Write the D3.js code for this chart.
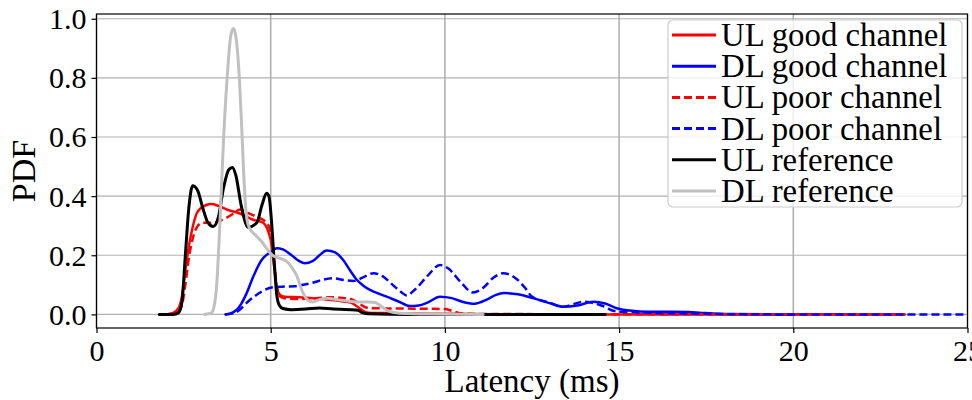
<!DOCTYPE html>
<html>
<head>
<meta charset="utf-8">
<script src="https://cdn.jsdelivr.net/npm/d3@7"></script>
<style>
  html, body { margin: 0; padding: 0; background: #fff; }
  svg { display: block; }
  svg text { font-family: "Liberation Serif", "Times New Roman", Times, "Tinos", "DejaVu Serif", serif !important; fill: #000; }
</style>
</head>
<body>
<svg id="chart" width="972" height="400"></svg>
<script>
// ---- Data (latency in ms, PDF values) ----
const seriesNames = ["UL good channel", "DL good channel", "UL poor channel", "DL poor channel", "UL reference", "DL reference"];

const ulGoodX = [2.0, 2.2, 2.35, 2.45, 2.55, 2.65, 2.75, 2.87, 3.0, 3.15, 3.3, 3.5, 3.75, 4.1, 4.5, 4.78, 4.93, 5.02, 5.1, 5.18, 5.27, 5.4, 5.8, 6.2, 6.6, 7.0, 7.3, 7.5, 7.65, 7.8, 8.5, 10, 12, 23.2];
const ulGoodY = [0, 0.005, 0.02, 0.06, 0.15, 0.23, 0.29, 0.34, 0.36, 0.37, 0.373, 0.367, 0.354, 0.342, 0.32, 0.31, 0.28, 0.24, 0.16, 0.09, 0.066, 0.06, 0.058, 0.055, 0.05, 0.045, 0.04, 0.025, 0.012, 0.006, 0.004, 0.002, 0, 0];

const dlGoodX = [3.7, 3.85, 4.02, 4.15, 4.31, 4.5, 4.74, 4.9, 5.03, 5.17, 5.35, 5.6, 5.8, 5.98, 6.2, 6.4, 6.6, 6.85, 7.08, 7.3, 7.47, 7.65, 7.85, 8.1, 8.33, 8.7, 9.0, 9.25, 9.5, 9.86, 10.2, 10.5, 10.85, 11.2, 11.45, 11.7, 12.1, 12.53, 13.0, 13.39, 13.8, 14.26, 14.6, 14.93, 15.3, 15.6, 16.0, 16.5, 17.0, 17.3, 17.7, 18.2, 20];
const dlGoodY = [0, 0.003, 0.015, 0.035, 0.072, 0.128, 0.184, 0.203, 0.213, 0.224, 0.22, 0.2, 0.182, 0.173, 0.18, 0.2, 0.216, 0.21, 0.184, 0.145, 0.117, 0.098, 0.083, 0.07, 0.06, 0.042, 0.028, 0.03, 0.04, 0.06, 0.055, 0.043, 0.036, 0.05, 0.065, 0.072, 0.068, 0.055, 0.038, 0.026, 0.03, 0.043, 0.037, 0.021, 0.013, 0.01, 0.009, 0.009, 0.008, 0.006, 0.003, 0.001, 0];

const ulPoorX = [2.0, 2.3, 2.45, 2.55, 2.65, 2.77, 2.91, 3.05, 3.25, 3.45, 3.7, 3.92, 4.12, 4.3, 4.6, 4.88, 4.97, 5.05, 5.12, 5.2, 5.28, 5.4, 5.8, 6.3, 6.7, 7.0, 7.3, 7.5, 7.7, 7.85, 8.5, 9.5, 10.0, 10.2, 10.4, 10.7, 12, 23.2];
const ulPoorY = [0, 0.005, 0.03, 0.1, 0.19, 0.26, 0.30, 0.31, 0.31, 0.313, 0.325, 0.34, 0.355, 0.345, 0.33, 0.31, 0.29, 0.23, 0.15, 0.08, 0.06, 0.055, 0.052, 0.055, 0.058, 0.056, 0.052, 0.04, 0.025, 0.021, 0.02, 0.019, 0.018, 0.012, 0.005, 0.002, 0.001, 0];

const dlPoorX = [3.7, 3.97, 4.15, 4.31, 4.5, 4.74, 5.07, 5.4, 5.7, 5.93, 6.2, 6.5, 6.8, 7.1, 7.37, 7.65, 7.95, 8.2, 8.5, 8.75, 8.9, 9.15, 9.5, 9.86, 10.1, 10.45, 10.8, 11.1, 11.4, 11.67, 12.0, 12.3, 12.5, 13.0, 13.4, 13.7, 13.97, 14.2, 14.45, 14.93, 15.5, 16.0, 17.0, 18, 20, 25];
const dlPoorY = [0, 0.005, 0.02, 0.039, 0.058, 0.077, 0.092, 0.094, 0.095, 0.1, 0.107, 0.117, 0.122, 0.116, 0.113, 0.125, 0.139, 0.13, 0.1, 0.075, 0.064, 0.085, 0.13, 0.167, 0.155, 0.11, 0.074, 0.09, 0.125, 0.139, 0.125, 0.09, 0.06, 0.04, 0.026, 0.035, 0.043, 0.04, 0.032, 0.01, 0.007, 0.005, 0.003, 0.001, 0, 0];

const ulRefX = [1.8, 2.2, 2.35, 2.45, 2.55, 2.65, 2.76, 2.9, 3.05, 3.2, 3.35, 3.5, 3.65, 3.8, 3.9, 4.0, 4.15, 4.35, 4.6, 4.75, 4.88, 4.95, 5.02, 5.1, 5.17, 5.25, 5.35, 5.6, 6.0, 6.4, 6.8, 7.0, 7.3, 7.5, 7.65, 7.8, 9, 14.6];
const ulRefY = [0, 0, 0.005, 0.04, 0.2, 0.36, 0.435, 0.42, 0.36, 0.31, 0.297, 0.33, 0.43, 0.49, 0.497, 0.47, 0.37, 0.295, 0.31, 0.37, 0.41, 0.40, 0.32, 0.18, 0.07, 0.03, 0.02, 0.016, 0.018, 0.022, 0.018, 0.017, 0.016, 0.014, 0.005, 0.002, 0, 0];

const dlRefX = [3.1, 3.3, 3.38, 3.45, 3.55, 3.65, 3.75, 3.85, 3.93, 4.0, 4.1, 4.18, 4.25, 4.32, 4.4, 4.55, 4.75, 4.9, 5.05, 5.25, 5.45, 5.6, 5.75, 5.9, 6.05, 6.2, 6.4, 6.6, 6.9, 7.2, 7.5, 7.8, 8.0, 8.2, 8.4, 8.7, 9.5, 11.1];
const dlRefY = [0, 0.005, 0.03, 0.1, 0.33, 0.6, 0.8, 0.94, 0.967, 0.94, 0.8, 0.6, 0.42, 0.32, 0.29, 0.27, 0.245, 0.22, 0.2, 0.19, 0.18, 0.16, 0.13, 0.08, 0.05, 0.042, 0.05, 0.055, 0.05, 0.045, 0.042, 0.042, 0.04, 0.025, 0.01, 0.004, 0.001, 0];

const xTicks = [0, 5, 10, 15, 20, 25];
const yTicks = [0.0, 0.2, 0.4, 0.6, 0.8, 1.0];
const xLabel = "Latency (ms)";
const yLabel = "PDF";

// ---- Styles ----
const styles = [
  { x: ulGoodX, y: ulGoodY, color: "#ff0000", dash: null, width: 2.5 },
  { x: dlGoodX, y: dlGoodY, color: "#0000ff", dash: null, width: 2.5 },
  { x: ulPoorX, y: ulPoorY, color: "#ff0000", dash: "8,4", width: 2.5 },
  { x: dlPoorX, y: dlPoorY, color: "#0000ff", dash: "8,4", width: 2.5 },
  { x: ulRefX, y: ulRefY, color: "#000000", dash: null, width: 3 },
  { x: dlRefX, y: dlRefY, color: "#c0c0c0", dash: null, width: 3 }
];

const FONT = '"Liberation Serif", "Times New Roman", Times, Tinos, "DejaVu Serif", serif';
const svg = d3.select("#chart");
const L = 96.5, R = 967.5, T = 14, B = 328;

const x = d3.scaleLinear().domain([0, 25]).range([L, R]);
const y = d3.scaleLinear().domain([-0.046, 1.016]).range([B, T]);

const defs = svg.append("defs");
defs.append("clipPath").attr("id", "clip").append("rect")
  .attr("x", L).attr("y", T).attr("width", R - L).attr("height", B - T);

// grid
const grid = svg.append("g");
grid.selectAll("line.vg").data(xTicks).enter().append("line")
  .attr("x1", d => x(d)).attr("x2", d => x(d)).attr("y1", T).attr("y2", B)
  .attr("stroke", "#b0b0b0").attr("stroke-width", 1.6);
grid.selectAll("line.hg").data(yTicks).enter().append("line")
  .attr("x1", L).attr("x2", R).attr("y1", d => y(d)).attr("y2", d => y(d))
  .attr("stroke", "#b0b0b0").attr("stroke-width", 1.2);

// lines
const lineGen = d3.line().x(d => x(d[0])).y(d => y(d[1])).curve(d3.curveMonotoneX);
const plot = svg.append("g").attr("clip-path", "url(#clip)");
styles.forEach(s => {
  const pts = s.x.map((v, i) => [v, s.y[i]]);
  plot.append("path").attr("d", lineGen(pts))
    .attr("fill", "none").attr("stroke", s.color).attr("stroke-width", s.width)
    .attr("stroke-dasharray", s.dash).attr("stroke-linejoin", "round").attr("stroke-linecap", s.dash ? "butt" : "round");
});

// axes
const xAxis = svg.append("g").attr("transform", `translate(0,${B})`)
  .call(d3.axisBottom(x).tickValues(xTicks).tickFormat(d3.format("d")).tickSize(5).tickPadding(4));
const yAxis = svg.append("g").attr("transform", `translate(${L},0)`)
  .call(d3.axisLeft(y).tickValues(yTicks).tickFormat(d3.format(".1f")).tickSize(5).tickPadding(5));
[xAxis, yAxis].forEach(a => {
  a.attr("font-family", FONT).attr("font-size", 30);
  a.select(".domain").remove();
  a.selectAll(".tick line").attr("stroke", "#000").attr("stroke-width", 1.2);
  a.selectAll(".tick text").attr("fill", "#000");
});
xAxis.selectAll(".tick text").attr("dy", "0.8em");
yAxis.selectAll(".tick text").attr("dy", "0.33em");

// frame
svg.append("rect").attr("x", L).attr("y", T).attr("width", R - L).attr("height", B - T)
  .attr("fill", "none").attr("stroke", "#000").attr("stroke-width", 1.2);

// axis labels
svg.append("text").attr("x", (L + R) / 2).attr("y", 392).attr("text-anchor", "middle")
  .attr("font-family", FONT).attr("font-size", 33).text(xLabel);
svg.append("text").attr("transform", `translate(35,${(T + B) / 2}) rotate(-90)`).attr("text-anchor", "middle")
  .attr("font-family", FONT).attr("font-size", 34).text(yLabel);

// legend
const lg = svg.append("g");
lg.append("rect").attr("x", 668).attr("y", 20).attr("width", 294).attr("height", 187)
  .attr("rx", 5).attr("ry", 5).attr("fill", "#fff").attr("fill-opacity", 0.8)
  .attr("stroke", "#cccccc").attr("stroke-width", 1.2);
styles.forEach((s, i) => {
  const cy = 35 + i * 31.2;
  lg.append("line").attr("x1", 672).attr("x2", 716).attr("y1", cy).attr("y2", cy)
    .attr("stroke", s.color).attr("stroke-width", 3).attr("stroke-dasharray", s.dash);
  lg.append("text").attr("x", 721).attr("y", cy + 11).attr("font-family", FONT).attr("font-size", 32.8).text(seriesNames[i]);
});
</script>
</body>
</html>
